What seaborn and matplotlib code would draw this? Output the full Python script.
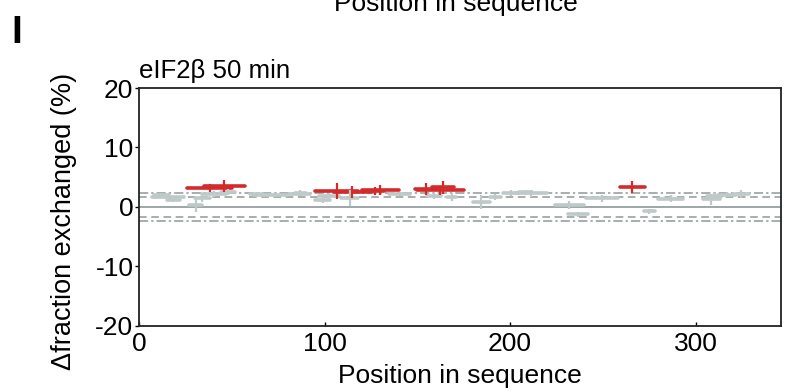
import pandas as pd
import seaborn as sns
import matplotlib
matplotlib.use('Agg')
import matplotlib.pyplot as plt

# peptide coverage: start, end, delta fraction exchanged (%), error, significant?
starts = [7, 8, 15, 27, 30, 34, 44, 26, 35, 60, 62, 81, 84, 95, 97, 95, 105, 109,
          120, 122, 135, 149, 150, 158, 155, 166, 180, 189, 196, 203, 205, 224, 231,
          241, 259, 272, 280, 304, 306, 312, 320]
ends = [24, 16, 22, 34, 38, 47, 52, 50, 57, 67, 80, 92, 90, 103, 108, 118, 125, 118,
        140, 132, 146, 160, 175, 170, 163, 171, 189, 195, 205, 220, 212, 240, 242,
        258, 273, 278, 293, 313, 314, 322, 329]
values = [1.6, 2.1, 1.2, 0.3, 1.5, 2.2, 2.5, 3.2, 3.6, 2.2, 2.1, 2.2, 2.4, 1.2, 1.8,
          2.7, 2.5, 1.5, 2.9, 2.7, 2.2, 3.0, 2.8, 3.3, 1.8, 1.7, 0.9, 1.7, 2.3, 2.3,
          2.5, 0.3, -1.2, 1.5, 3.3, -0.7, 1.4, 1.3, 1.8, 2.1, 2.2]
errors = [0.4, 0.3, 0.3, 1.2, 0.6, 0.5, 0.5, 0.7, 1.0, 0.4, 0.3, 0.3, 0.5, 0.6, 0.5,
          1.3, 1.0, 1.4, 0.8, 0.6, 0.4, 1.0, 0.8, 1.1, 0.5, 0.7, 1.2, 0.5, 0.5, 0.6,
          0.4, 0.7, 0.4, 0.6, 1.0, 0.4, 0.6, 0.9, 0.5, 0.5, 0.7]
significant = [False, False, False, False, False, False, False, True, True, False,
               False, False, False, False, False, True, True, False, True, True,
               False, True, True, True, False, False, False, False, False, False,
               False, False, False, False, True, False, False, False, False, False,
               False]

threshold_95 = 1.65
threshold_99 = 2.3

red = '#d42a2a'
grey = '#bec9c9'
line_grey = '#8e9898'

rows = []
for i, (s, e, v, sig) in enumerate(zip(starts, ends, values, significant)):
    for p in (s, e):
        rows.append({'pos': p, 'value': v, 'pep': i, 'sig': 'yes' if sig else 'no'})
df = pd.DataFrame(rows)

sns.set_style('ticks')
plt.rcParams['font.family'] = ['Liberation Sans', 'DejaVu Sans']
plt.rcParams['text.color'] = 'black'
plt.rcParams['axes.labelcolor'] = 'black'
plt.rcParams['xtick.color'] = 'black'
plt.rcParams['ytick.color'] = 'black'
plt.rcParams['axes.edgecolor'] = '#222222'
plt.rcParams['axes.unicode_minus'] = False

fig = plt.figure(figsize=(7.88, 3.92), dpi=100)
ax = fig.add_axes([0.1764, 0.1684, 0.8146, 0.6071])

ax.axhline(0, color=line_grey, lw=1.2, zorder=1)
for t, ls in ((threshold_95, (0, (5, 3))), (threshold_99, (0, (6, 2, 1.5, 2)))):
    ax.axhline(t, color=line_grey, lw=1.1, ls=ls, zorder=1)
    ax.axhline(-t, color=line_grey, lw=1.1, ls=ls, zorder=1)

sns.lineplot(data=df, x='pos', y='value', units='pep', estimator=None, hue='sig',
             hue_order=['no', 'yes'], palette={'no': grey, 'yes': red},
             lw=2.6, legend=False, sort=False, ax=ax, zorder=3)

mids = [(s + e) / 2 for s, e in zip(starts, ends)]
for sig, col, z in ((False, grey, 3), (True, red, 4)):
    idx = [i for i in range(len(mids)) if significant[i] == sig]
    ax.errorbar([mids[i] for i in idx], [values[i] for i in idx],
                yerr=[errors[i] for i in idx], fmt='none', ecolor=col,
                elinewidth=1.6, capsize=0, zorder=z)

ax.set_xlim(0, 346)
ax.set_ylim(-20, 20)
ax.set_xticks([0, 100, 200, 300])
ax.set_yticks([-20, -10, 0, 10, 20])
ax.tick_params(labelsize=19, length=3, width=1, pad=1)
ax.tick_params(axis='x', direction='in', pad=4)
for sp in ax.spines.values():
    sp.set_visible(True)
    sp.set_linewidth(1.3)
ax.set_xlabel('Position in sequence', fontsize=19, labelpad=6)
ax.set_ylabel('Δfraction exchanged (%)', fontsize=19.5)
ax.yaxis.set_label_coords(-0.097, 0.44)
ax.set_title('eIF2β 50 min', fontsize=18.6, loc='left', pad=7)

fig.text(0.015, 0.89, 'I', fontsize=28, fontweight='bold')
fig.text(0.578, 0.99, 'Position in sequence', fontsize=19, ha='center', va='center')

fig.savefig('out.png', dpi=100)
